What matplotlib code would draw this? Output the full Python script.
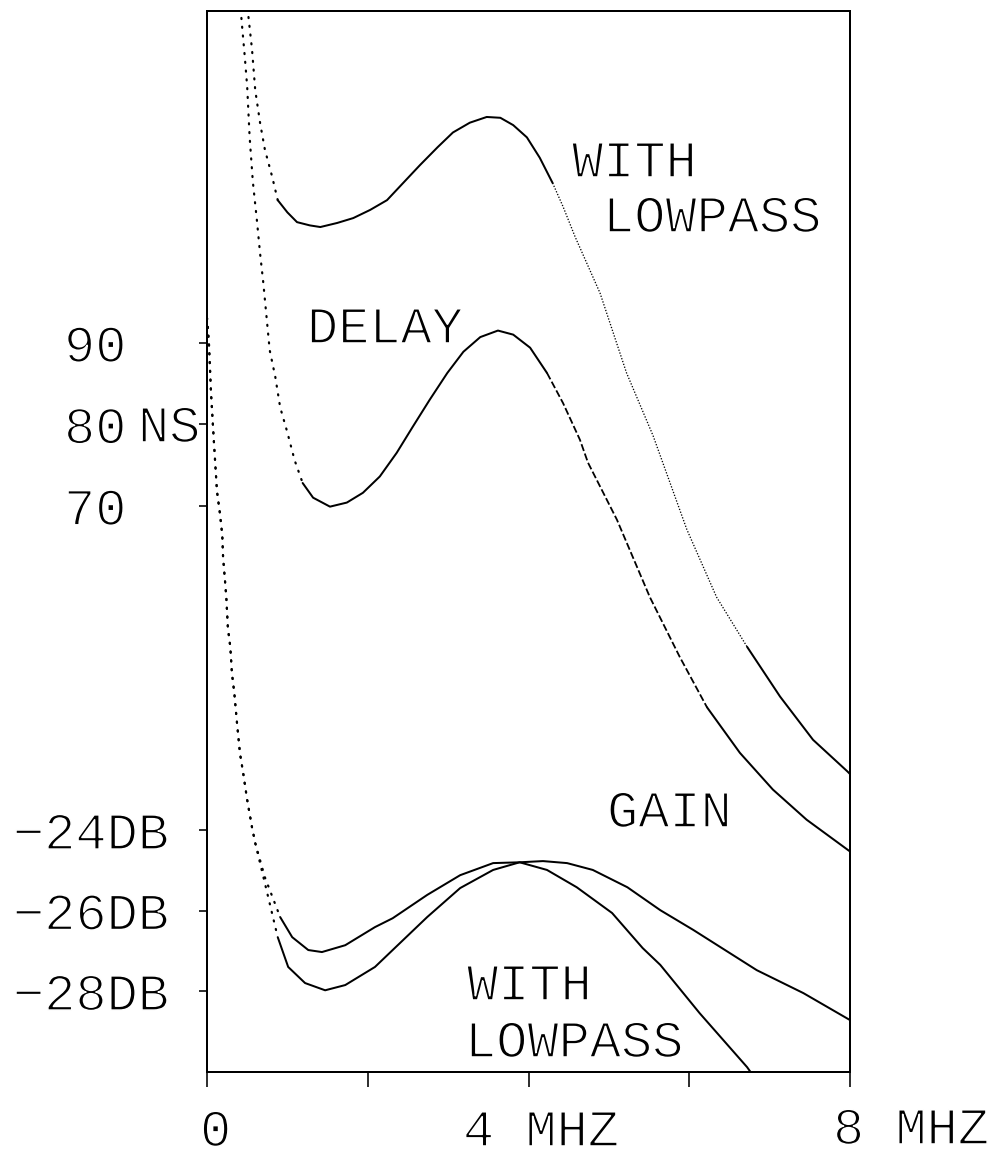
import numpy as np
import matplotlib as mpl
mpl.use('Agg')
import matplotlib.pyplot as plt
import matplotlib.patheffects as pe

plt.rcParams['font.family'] = ['Liberation Mono', 'DejaVu Sans Mono']

# values: frequency in MHz, delay in ns, gain in dB
delay_lp_f = [0.485, 0.51, 0.56, 0.60, 0.66, 0.72, 0.81, 0.88, 1.00, 1.12, 1.28, 1.41,
              1.62, 1.82, 2.03, 2.24, 2.44, 2.65, 2.87, 3.06, 3.27, 3.48, 3.65, 3.81,
              3.98, 4.14, 4.30, 4.43, 4.58, 4.89, 5.22, 5.55, 5.97, 6.34, 6.72, 7.13,
              7.54, 7.97, 8.0]
delay_lp_ns = [132.1, 130.5, 126.0, 121.0, 117.0, 113.7, 110.4, 107.5, 106.0, 104.8, 104.4, 104.2,
               104.7, 105.3, 106.3, 107.5, 109.6, 111.8, 114.0, 115.8, 117.0, 117.7, 117.6, 116.7,
               115.2, 112.7, 109.6, 106.7, 103.0, 96.1, 86.3, 78.6, 67.1, 58.8, 52.7, 46.6,
               41.3, 37.4, 37.1]

delay_f = [0.41, 0.435, 0.47, 0.50, 0.53, 0.57, 0.62, 0.66, 0.70, 0.78, 0.85, 0.91, 1.00,
           1.09, 1.19, 1.32, 1.53, 1.74, 1.94, 2.15, 2.36, 2.56, 2.77, 2.99, 3.19, 3.40,
           3.62, 3.81, 4.02, 4.23, 4.43, 4.64, 4.74, 5.10, 5.51, 5.88, 6.22, 6.63, 7.04,
           7.46, 8.0]
delay_ns = [132.0, 129.0, 125.1, 121.4, 115.3, 109.8, 105.1, 101.0, 97.4, 89.1, 85.8, 82.1, 79.0,
            75.6, 72.8, 71.0, 69.9, 70.4, 71.6, 73.6, 76.5, 79.7, 83.0, 86.3, 88.9, 90.7,
            91.5, 91.0, 89.4, 86.3, 82.6, 78.1, 75.3, 68.3, 58.8, 51.5, 45.3, 39.7, 35.2,
            31.5, 27.6]

gain_lp_f = [0.0, 0.01, 0.025, 0.05, 0.087, 0.124, 0.16, 0.19, 0.20, 0.22, 0.24, 0.26, 0.29,
             0.31, 0.34, 0.37, 0.41, 0.45, 0.50, 0.56, 0.60, 0.72, 0.91, 1.06, 1.26, 1.43,
             1.72, 2.09, 2.31, 2.74, 3.15, 3.56, 3.89, 4.23, 4.60, 5.04, 5.42, 5.64, 6.13,
             6.72, 6.78]
gain_lp_db = [-11.28, -11.50, -11.95, -13.14, -14.39, -15.58, -16.12, -16.67, -17.22, -17.71,
              -18.21, -18.98, -19.45, -20.10, -20.60, -21.27, -22.09, -22.58, -23.25, -23.93,
              -24.32, -25.17, -26.16, -26.66, -26.98, -27.03, -26.86, -26.41, -26.19, -25.61,
              -25.12, -24.82, -24.80, -24.99, -25.42, -26.06, -26.93, -27.35, -28.55, -29.89,
              -30.06]

gain_f = [0.0, 0.01, 0.025, 0.05, 0.087, 0.124, 0.16, 0.19, 0.20, 0.22, 0.24, 0.26, 0.29,
          0.31, 0.34, 0.37, 0.41, 0.45, 0.50, 0.56, 0.60, 0.75, 0.88, 1.01, 1.22, 1.47,
          1.72, 2.09, 2.31, 2.74, 3.15, 3.56, 3.89, 4.18, 4.48, 4.80, 5.23, 5.64, 6.05,
          6.84, 7.42, 8.0]
gain_db = [-11.28, -11.50, -11.95, -13.14, -14.39, -15.58, -16.12, -16.67, -17.22, -17.71,
           -18.21, -18.98, -19.45, -20.10, -20.60, -21.27, -22.09, -22.58, -23.25, -23.93,
           -24.32, -25.57, -26.66, -27.40, -27.80, -27.98, -27.85, -27.40, -26.98, -26.16,
           -25.44, -24.99, -24.80, -24.77, -24.82, -24.99, -25.42, -25.99, -26.48, -27.48,
           -28.05, -28.72]

x_ticks = [0, 2, 4, 6, 8]
delay_ticks = [70, 80, 90]
delay_labels = ['70', '80', '90']
gain_ticks = [-28, -26, -24]
gain_labels = ['\u221228DB', '\u221226DB', '\u221224DB']

# figure in pixels (dpi 72 -> 1 pt == 1 px)
W, H = 995, 1159
L, R, T, B = 207, 850, 11, 1072
fig = plt.figure(figsize=(W / 72, H / 72), dpi=72)
ax = fig.add_axes([L / W, 1 - B / H, (R - L) / W, (B - T) / H])
ax2 = ax.twinx()

ax.set_xlim(0, 8)
ax.set_ylim(-30.01, -3.65)
ax2.set_ylim(0.55, 130.7)

for s in ax.spines.values():
    s.set_linewidth(2)
for s in ax2.spines.values():
    s.set_visible(False)

# thin the glyphs a little to look like plotter lettering
THIN = [pe.Stroke(linewidth=1.6, foreground='white')]
FS = 52
ax.set_xticks(x_ticks, [])
ax.tick_params(axis='x', direction='out', length=15, width=1.6, top=False)
ax.set_yticks(gain_ticks, gain_labels, ha='left', fontsize=FS, path_effects=THIN)
ax.tick_params(axis='y', direction='out', length=8, width=1.6, pad=207 - 8 - 13,
               left=True, right=False)
ax2.yaxis.tick_left()
ax2.set_yticks(delay_ticks, delay_labels, ha='left', fontsize=FS, path_effects=THIN)
ax2.tick_params(axis='y', direction='out', length=8, width=1.6, pad=207 - 8 - 64,
                left=True, right=False, labelleft=True, labelright=False)

SOLID = dict(color='black', lw=2, solid_capstyle='round', solid_joinstyle='round')
DOTS = dict(color='black', lw=2.2, ls=(0, (0.5, 3.5)), dash_capstyle='round')
FINE = dict(color='black', lw=1.3, ls=(0, (1, 1.3)))
DASH = dict(color='black', lw=1.8, ls=(0, (4, 1.5)))


def part(f, v, lo, hi):
    f = np.asarray(f)
    v = np.asarray(v)
    m = (f >= lo) & (f <= hi)
    return f[m], v[m]


# delay, with lowpass (upper)
ax2.plot(*part(delay_lp_f, delay_lp_ns, 0, 0.88), **DOTS)
ax2.plot(*part(delay_lp_f, delay_lp_ns, 0.88, 4.30), **SOLID)
ax2.plot(*part(delay_lp_f, delay_lp_ns, 4.30, 6.72), **FINE)
ax2.plot(*part(delay_lp_f, delay_lp_ns, 6.72, 8), **SOLID)

# delay, without
ax2.plot(*part(delay_f, delay_ns, 0, 1.19), **DOTS)
ax2.plot(*part(delay_f, delay_ns, 1.19, 4.23), **SOLID)
ax2.plot(*part(delay_f, delay_ns, 4.23, 6.22), **DASH)
ax2.plot(*part(delay_f, delay_ns, 6.22, 8), **SOLID)

# gain, with lowpass
ax.plot(*part(gain_lp_f, gain_lp_db, 0, 0.91), **DOTS)
ax.plot(*part(gain_lp_f, gain_lp_db, 0.91, 8), **SOLID)

# gain, without
ax.plot(*part(gain_f, gain_db, 0, 0.88), **DOTS)
ax.plot(*part(gain_f, gain_db, 0.88, 8), **SOLID)


def label(x, y, s):
    fig.text(x / W, 1 - y / H, s, ha='left', va='baseline', fontsize=FS,
             path_effects=THIN)


label(572, 177, 'WITH')
label(603, 232, 'LOWPASS')
label(307, 343, 'DELAY')
label(607, 827, 'GAIN')
label(467, 1000, 'WITH')
label(465, 1057, 'LOWPASS')
label(138, 442, 'NS')
label(200, 1146, '0')
label(463, 1146, '4 MHZ')
label(833, 1144, '8 MHZ')

fig.savefig('out.png', dpi=72)
